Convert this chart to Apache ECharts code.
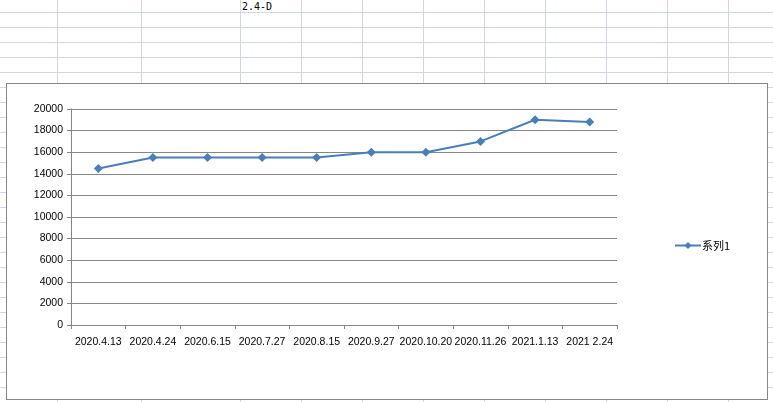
<!DOCTYPE html>
<html>
<head>
<meta charset="utf-8">
<script src="https://cdn.jsdelivr.net/npm/echarts@6/dist/echarts.min.js"></script>
<style>
  html, body { margin: 0; padding: 0; }
  body {
    width: 773px; height: 402px; position: relative; overflow: hidden;
    background-color: #ffffff;
    background-image: linear-gradient(to bottom, #D0D7E5 1px, transparent 1px);
    background-size: 100% 15px;
    background-position: 0 12px;
  }
  .vline { position: absolute; top: 0; width: 1px; height: 402px; background: #D0D7E5; }
  #cell { position: absolute; left: 242px; top: 1px; font-family: "DejaVu Sans Mono", monospace; font-size: 10px; line-height: 12px; color: #000; }
  #box { position: absolute; left: 6px; top: 83px; width: 762px; height: 317px; box-sizing: border-box; border: 1px solid #878787; background: #fff; }
  #chart { width: 760px; height: 315px; }
</style>
</head>
<body>
<div id="cell">2.4-D</div>
<div id="box"><div id="chart"></div></div>
<script>
const categories = ['2020.4.13', '2020.4.24', '2020.6.15', '2020.7.27', '2020.8.15', '2020.9.27', '2020.10.20', '2020.11.26', '2021.1.13', '2021 2.24'];
const seriesName = '系列1';
const values = [14500, 15500, 15500, 15500, 15500, 16000, 16000, 17000, 19000, 18800];
const yMin = 0, yMax = 20000, yStep = 2000;
const sheetColumnX = [57, 141, 240, 301, 362, 423, 484, 545, 606, 667, 728];

sheetColumnX.forEach(function (x) {
  const d = document.createElement('div');
  d.className = 'vline';
  d.style.left = x + 'px';
  document.body.insertBefore(d, document.getElementById('box'));
});

const gray = '#868686';
const blue = '#4A7EBB';
const font = '"Liberation Sans", Arial, sans-serif';

const chart = echarts.init(document.getElementById('chart'), null, { renderer: 'canvas' });
chart.setOption({
  animation: false,
  grid: { left: 64, top: 25, width: 546, height: 216, containLabel: false },
  legend: {
    data: [seriesName],
    left: 662, top: 151,
    itemWidth: 26, itemHeight: 9,
    textStyle: { fontFamily: '"Noto Sans CJK SC", sans-serif', fontSize: 11, color: '#000', padding: [0, 0, 0, -4] }
  },
  xAxis: {
    type: 'category',
    data: categories,
    boundaryGap: true,
    axisLine: { lineStyle: { color: gray, width: 1 } },
    axisTick: { show: true, length: 4, lineStyle: { color: gray } },
    axisLabel: { interval: 0, margin: 12, color: '#000', fontFamily: font, fontSize: 10.5 },
    splitLine: { show: false }
  },
  yAxis: {
    type: 'value',
    min: yMin, max: yMax, interval: yStep,
    axisLine: { show: true, lineStyle: { color: gray, width: 1 } },
    axisTick: { show: true, length: 4, lineStyle: { color: gray } },
    axisLabel: { margin: 8, color: '#000', fontFamily: font, fontSize: 10.5, formatter: function (v) { return String(v); } },
    splitLine: { show: true, lineStyle: { color: gray, width: 1 } }
  },
  series: [{
    name: seriesName,
    type: 'line',
    data: values,
    symbol: 'diamond',
    symbolSize: 9,
    lineStyle: { color: blue, width: 2 },
    itemStyle: { color: blue }
  }]
});
</script>
</body>
</html>
